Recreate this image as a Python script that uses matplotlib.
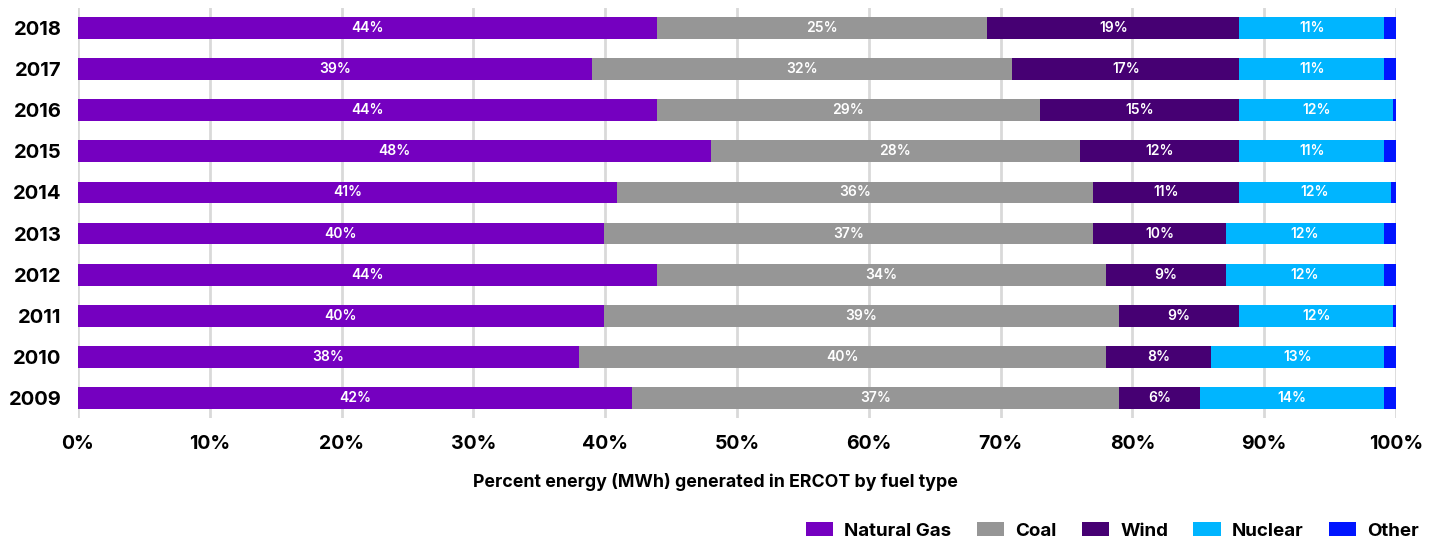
import matplotlib.pyplot as plt
import numpy as np

plt.rcParams['font.family'] = ['Inter', 'DejaVu Sans']

years = ['2009', '2010', '2011', '2012', '2013', '2014', '2015', '2016', '2017', '2018']
natural_gas = [42.0, 38.0, 39.9, 43.9, 39.9, 40.9, 48.0, 43.9, 39.0, 43.9]
coal = [37.0, 40.0, 39.1, 34.1, 37.1, 36.1, 28.0, 29.1, 31.9, 25.1]
wind = [6.1, 8.0, 9.1, 9.1, 10.1, 11.1, 12.1, 15.1, 17.2, 19.1]
nuclear = [14.0, 13.1, 11.7, 12.0, 12.0, 11.5, 11.0, 11.7, 11.0, 11.0]
other = [0.9, 0.9, 0.2, 0.9, 0.9, 0.4, 0.9, 0.2, 0.9, 0.9]

series = [('Natural Gas', natural_gas, '#7500C0'),
          ('Coal', coal, '#969696'),
          ('Wind', wind, '#460073'),
          ('Nuclear', nuclear, '#00B5FF'),
          ('Other', other, '#0015FF')]

fig = plt.figure(figsize=(14.39, 5.39), dpi=100)
ax = fig.add_axes([78 / 1439, 1 - 418 / 539, 1318 / 1439, 410 / 539])

y = np.arange(len(years))
left = np.zeros(len(years))
for name, vals, color in series:
    vals = np.array(vals)
    ax.barh(y, vals, left=left, height=0.53, color=color, label=name, zorder=3)
    if name != 'Other':
        for yi, (l, v) in enumerate(zip(left, vals)):
            ax.text(l + v / 2, yi, f'{round(v)}%', ha='center', va='center',
                    color='white', fontsize=10, fontweight='semibold', zorder=4)
    left += vals

ax.set_xlim(0, 100)
ax.set_ylim(-0.487, len(years) - 1 + 0.487)
ax.set_xticks(np.arange(0, 101, 10))
ax.set_xticklabels([f'{t}%' for t in range(0, 101, 10)])
ax.set_yticks(y)
ax.set_yticklabels(years)
ax.tick_params(length=0)
ax.tick_params(axis='x', pad=12, labelsize=14)
ax.tick_params(axis='y', pad=12, labelsize=14.5)
for lbl in ax.get_xticklabels() + ax.get_yticklabels():
    lbl.set_fontweight('bold')
ax.grid(axis='x', color='#d9d9d9', linewidth=2, zorder=0)
for s in ax.spines.values():
    s.set_visible(False)

fig.text(715 / 1439, 1 - 482 / 539, 'Percent energy (MWh) generated in ERCOT by fuel type',
         ha='center', va='center', fontsize=12.8, fontweight='bold')

leg = fig.legend(loc='center right', bbox_to_anchor=(1436 / 1439, 1 - 531 / 539), ncol=5,
                 frameon=False, handlelength=1.45, handleheight=0.75, columnspacing=1.35,
                 handletextpad=0.6, prop={'weight': 'bold', 'size': 13.5})

fig.savefig('out.png', dpi=100)
